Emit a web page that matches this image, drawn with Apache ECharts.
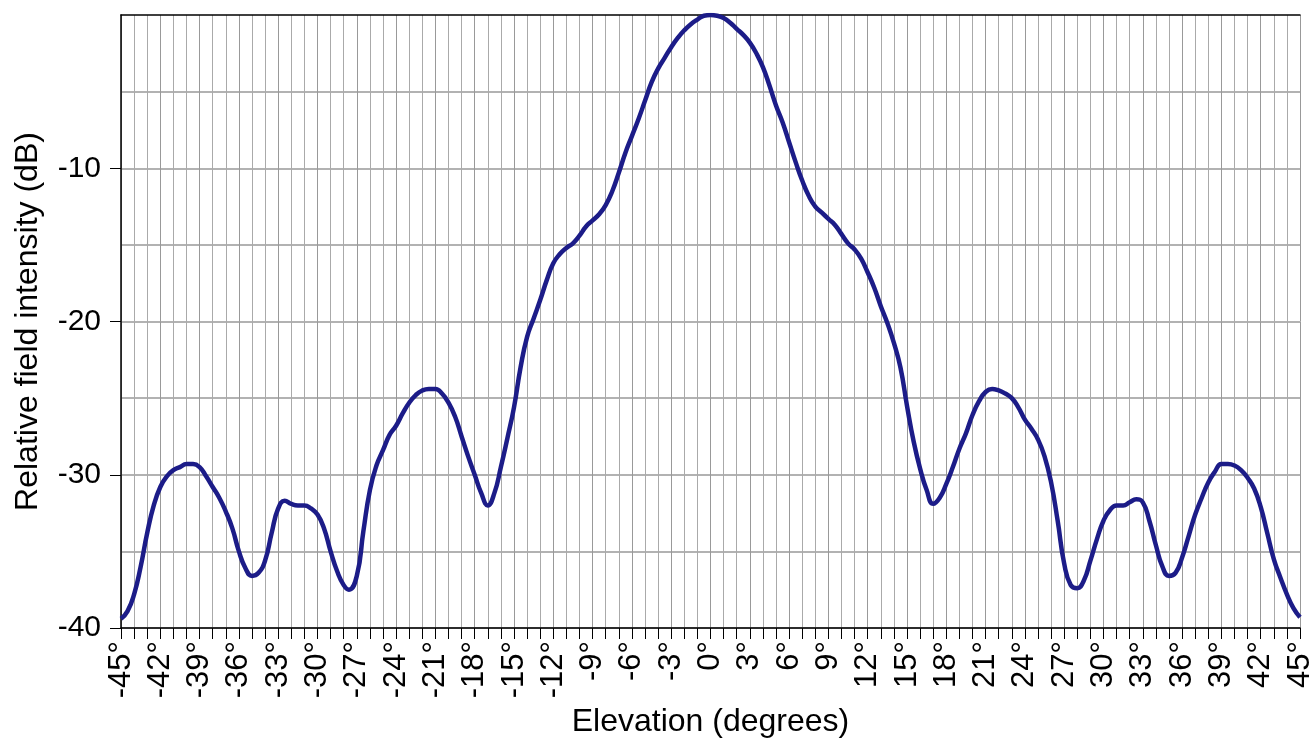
<!DOCTYPE html>
<html>
<head>
<meta charset="utf-8">
<script src="https://cdn.jsdelivr.net/npm/echarts@6/dist/echarts.min.js"></script>
<style>
  html, body { margin: 0; padding: 0; background: #fff; }
  #chart { width: 1316px; height: 743px; }
</style>
</head>
<body>
<div id="chart"></div>
<script>
// Elevation pattern
const elevation = [
  -45, -44.5, -44, -43.5, -43, -42.5, -42, -41.5, -41, -40.5, -40, -39.5, -39, -38.5, -38, -37.5, -37, -36.5, -36, -35.5,
  -35, -34.5, -34, -33.5, -33, -32.5, -32, -31.5, -31, -30.5, -30, -29.5, -29, -28.5, -28, -27.6, -27, -26.5, -26, -25.5,
  -25, -24.5, -24, -23.5, -23, -22.5, -22, -21.5, -21, -20.5, -20, -19.5, -19, -18.5, -18, -17.5, -17, -16.5, -16, -15.5,
  -15, -14.5, -14, -13.5, -13, -12.5, -12, -11.5, -11, -10.5, -10, -9.5, -9, -8.5, -8, -7.5, -7, -6.5, -6, -5.5,
  -5, -4.5, -4, -3.5, -3, -2.5, -2, -1.5, -1, -0.5, 0,
  0.5, 1, 1.5, 2, 2.5, 3, 3.5, 4, 4.5, 5, 5.5, 6, 6.5, 7, 7.5, 8, 8.5, 9, 9.5, 10,
  10.5, 11, 11.5, 12, 12.5, 13, 13.5, 14, 14.5, 15, 15.5, 16, 16.5, 17, 17.5, 18, 18.5, 19, 19.5, 20,
  20.5, 21, 21.5, 22, 22.5, 23, 23.5, 24, 24.5, 25, 25.5, 26, 26.5, 27, 27.5, 28, 28.5, 29, 29.5, 30,
  30.5, 31, 31.5, 32, 32.5, 33, 33.5, 34, 34.5, 35, 35.5, 36, 36.5, 37, 37.5, 38, 38.5, 39, 39.5, 40,
  40.5, 41, 41.5, 42, 42.5, 43, 43.5, 44, 44.5, 45
];
const intensity = [
  -39.4, -38.9, -37.8, -36.0, -33.8, -32.0, -30.8, -30.1, -29.7, -29.5, -29.3, -29.3, -29.5, -30.1, -30.8, -31.5, -32.4, -33.5, -35.0, -36.1,
  -36.6, -36.4, -35.6, -33.8, -32.2, -31.7, -31.9, -32.0, -32.0, -32.2, -32.6, -33.5, -35.0, -36.3, -37.2, -37.5, -36.6, -33.7, -31.0, -29.4,
  -28.4, -27.4, -26.8, -26.0, -25.3, -24.8, -24.5, -24.4, -24.4, -24.7, -25.3, -26.2, -27.5, -28.8, -30.0, -31.2, -32.0, -31.2, -29.5, -27.6,
  -25.6, -23.0, -21.0, -19.8, -18.6, -17.3, -16.2, -15.6, -15.2, -14.9, -14.4, -13.8, -13.4, -13.0, -12.4, -11.5, -10.3, -9.0, -7.9, -6.8,
  -5.6, -4.4, -3.5, -2.8, -2.1, -1.5, -1.0, -0.6, -0.3, -0.05, 0,
  -0.05, -0.2, -0.5, -0.9, -1.3, -1.8, -2.5, -3.4, -4.6, -5.9, -7.0, -8.3, -9.6, -10.8, -11.8, -12.5, -12.9, -13.3, -13.7, -14.3,
  -14.9, -15.3, -15.9, -16.8, -17.8, -19.0, -20.1, -21.4, -23.0, -25.5, -27.8, -29.6, -31.0, -31.9, -31.5, -30.6, -29.5, -28.3, -27.3, -26.1,
  -25.2, -24.6, -24.4, -24.5, -24.7, -25.0, -25.6, -26.4, -27.0, -27.7, -28.8, -30.5, -33.0, -35.8, -37.2, -37.4, -36.9, -35.6, -34.2, -33.0,
  -32.3, -32.0, -32.0, -31.8, -31.6, -31.8, -33.0, -34.6, -36.0, -36.6, -36.4, -35.4, -34.0, -32.6, -31.5, -30.5, -29.8, -29.3, -29.3, -29.4,
  -29.7, -30.2, -30.9, -32.1, -33.8, -35.5, -36.7, -37.8, -38.7, -39.3
];
const yLabels = [-40, -30, -20, -10];

const chart = echarts.init(document.getElementById('chart'));
const font = 'Liberation Sans, Arial, sans-serif';

chart.setOption({
  animation: false,
  grid: { left: 121, right: 16, top: 15, bottom: 115, outerBoundsMode: 'none', containLabel: false },
  xAxis: [{
    type: 'value',
    min: -45, max: 45, interval: 3,
    name: 'Elevation (degrees)',
    nameLocation: 'middle',
    nameGap: 78,
    nameTextStyle: { fontFamily: font, fontSize: 32, color: '#000' },
    axisLine: { onZero: false, lineStyle: { color: '#000', width: 1.5 } },
    axisTick: { length: 11, lineStyle: { color: '#000' } },
    minorTick: { show: true, splitNumber: 3, length: 11, lineStyle: { color: '#000' } },
    axisLabel: {
      rotate: 90, margin: 13,
      fontFamily: font, fontSize: 31, color: '#000',
      formatter: v => v + '°'
    },
    splitLine: { lineStyle: { color: '#999', width: 1 } },
    minorSplitLine: { show: true, lineStyle: { color: '#aaa', width: 1 } }
  }, {
    type: 'value', position: 'top',
    min: -45, max: 45,
    axisLine: { show: true, onZero: false, lineStyle: { color: '#000', width: 1.5 } },
    axisTick: { show: false }, axisLabel: { show: false }, splitLine: { show: false }
  }],
  yAxis: {
    type: 'value',
    min: -40, max: 0, interval: 10,
    name: 'Relative field intensity (dB)',
    nameLocation: 'middle',
    nameGap: 77,
    nameTextStyle: { fontFamily: font, fontSize: 32, color: '#000' },
    axisLine: { show: true, onZero: false, lineStyle: { color: '#000', width: 1.5 } },
    axisTick: { show: true, length: 11, customValues: yLabels, lineStyle: { color: '#000' } },
    axisLabel: {
      margin: 20, fontFamily: font, fontSize: 30, color: '#000',
      customValues: yLabels
    },
    splitLine: { lineStyle: { color: '#999', width: 1.5 } },
    minorTick: { show: false, splitNumber: 2 },
    minorSplitLine: { show: true, lineStyle: { color: '#999', width: 1.5 } }
  },
  series: [{
    type: 'line',
    xAxisIndex: 0,
    data: elevation.map((e, i) => [e, intensity[i]]),
    smooth: true,
    showSymbol: false,
    lineStyle: { color: '#1c1c88', width: 4.5 }
  }]
});
</script>
</body>
</html>
